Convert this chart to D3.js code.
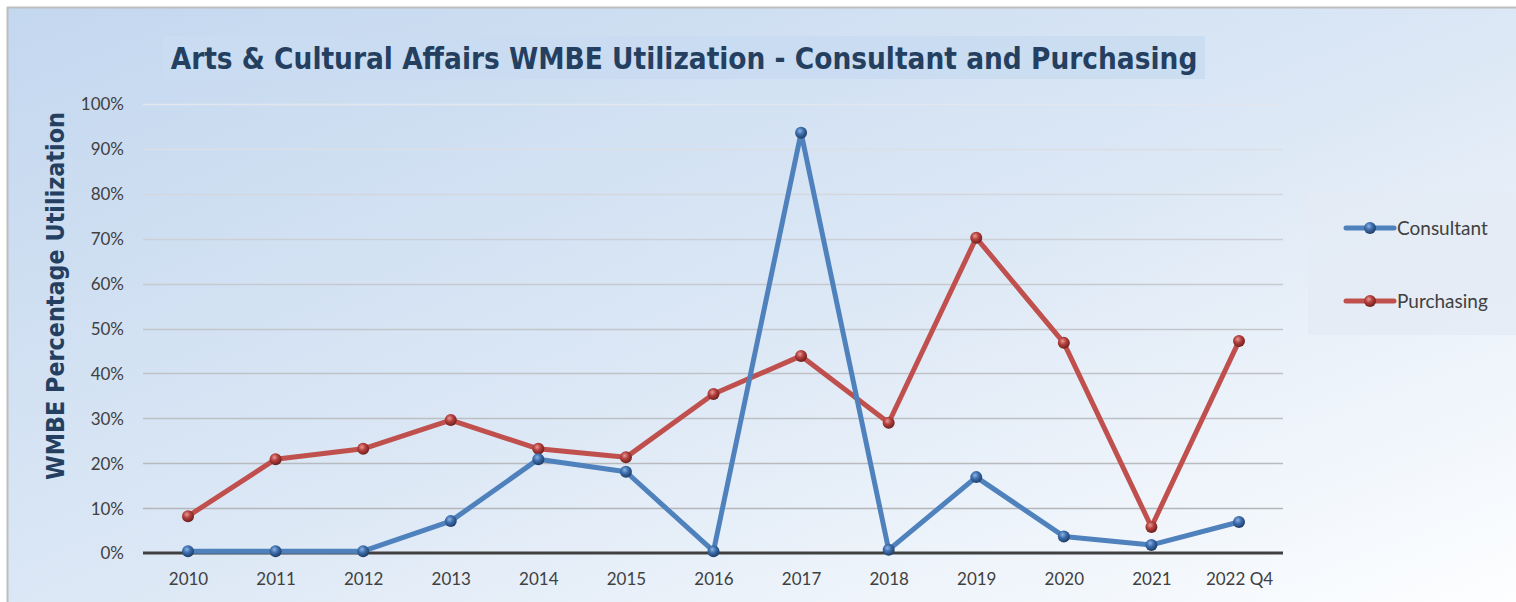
<!DOCTYPE html>
<html><head><meta charset="utf-8">
<script src="https://cdn.jsdelivr.net/npm/d3@7"></script>
<style>html,body{margin:0;padding:0;background:#fff;}svg{display:block;}</style>
</head><body>
<script>
const categories = ["2010","2011","2012","2013","2014","2015","2016","2017","2018","2019","2020","2021","2022 Q4"];
const consultant = [0.4,0.4,0.4,7.1,20.9,18.1,0.4,93.6,0.7,16.9,3.7,1.8,6.9];
const purchasing = [8.2,20.9,23.2,29.6,23.2,21.3,35.4,43.9,29.0,70.2,46.8,5.8,47.2];
const yTicks = [0,10,20,30,40,50,60,70,80,90,100];
const seriesNames = ["Consultant","Purchasing"];
const title = "Arts & Cultural Affairs WMBE Utilization - Consultant and Purchasing";
const yTitle = "WMBE Percentage Utilization";

const W = 1516, H = 602;
const svg = d3.select("body").append("svg").attr("width", W).attr("height", H);
const defs = svg.append("defs");

const bg = defs.append("linearGradient").attr("id","bg").attr("x1","0").attr("y1","0").attr("x2","1").attr("y2","1");
bg.append("stop").attr("offset","0").attr("stop-color","#c3d7ef");
bg.append("stop").attr("offset","0.5").attr("stop-color","#dbe7f5");
bg.append("stop").attr("offset","1").attr("stop-color","#fdfeff");

const gg = defs.append("linearGradient").attr("id","grid").attr("gradientUnits","userSpaceOnUse")
  .attr("x1",0).attr("y1",100).attr("x2",0).attr("y2",560);
gg.append("stop").attr("offset","0").attr("stop-color","#e4e8ee");
gg.append("stop").attr("offset","0.35").attr("stop-color","#c8ccd2");
gg.append("stop").attr("offset","1").attr("stop-color","#b0b2b5");

function sphere(id, light, mid, dark){
  const r = defs.append("radialGradient").attr("id",id).attr("cx","0.4").attr("cy","0.35").attr("r","0.65");
  r.append("stop").attr("offset","0").attr("stop-color",light);
  r.append("stop").attr("offset","0.45").attr("stop-color",mid);
  r.append("stop").attr("offset","1").attr("stop-color",dark);
}
sphere("sphB","#8fb4e3","#3d6fae","#1f3d66");
sphere("sphR","#e89a98","#b5403d","#6e1f1d");

// background
svg.append("rect").attr("x",7).attr("y",7).attr("width",W-7).attr("height",H-7).attr("fill","url(#bg)");
svg.append("line").attr("x1",7).attr("y1",7.5).attr("x2",W).attr("y2",7.5).attr("stroke","#bdbdbd").attr("stroke-width",2);
svg.append("line").attr("x1",7.5).attr("y1",7).attr("x2",7.5).attr("y2",H).attr("stroke","#bdbdbd").attr("stroke-width",2);

// title box
svg.append("rect").attr("x",163).attr("y",36).attr("width",1042).attr("height",43).attr("fill","#c9dbf1").attr("opacity",0.9);
const tt = svg.append("text").attr("x",684).attr("y",69).attr("text-anchor","middle")
  .attr("font-family","'DejaVu Sans Condensed', 'DejaVu Sans', Verdana, sans-serif").attr("font-stretch","condensed").attr("font-weight","bold")
  .attr("font-size",28).attr("fill","#243f60").text(title);
let tw = tt.node().getComputedTextLength();
tt.attr("font-size", 28*1027/tw);

// legend box
svg.append("rect").attr("x",1308).attr("y",193).attr("width",208).attr("height",142).attr("fill","#e4ebf5").attr("opacity",0.85);

const x = d3.scalePoint().domain(categories).range([188, 1239]);
const y = d3.scaleLinear().domain([0,100]).range([553, 104]);
const plotL = 143, plotR = 1283;

// gridlines
svg.append("g").selectAll("line").data(yTicks.filter(d=>d>0)).join("line")
  .attr("x1",plotL).attr("x2",plotR).attr("y1",d=>Math.round(y(d))+0.5).attr("y2",d=>Math.round(y(d))+0.5)
  .attr("stroke","url(#grid)").attr("stroke-width",1.6);

// y axis labels
const yAxis = d3.axisLeft(y).tickValues(yTicks).tickFormat(d=>d+"%").tickSize(0).tickPadding(0);
const ya = svg.append("g").attr("transform","translate(124,0)").call(yAxis);
ya.select(".domain").remove();
ya.selectAll("text").attr("font-family","Lato, 'Open Sans', sans-serif").attr("font-size",17).attr("fill","#404040").attr("dy","0.35em");

// x axis
const xAxis = d3.axisBottom(x).tickSize(0).tickPadding(0);
const xa = svg.append("g").attr("transform","translate(0,579)").call(xAxis);
xa.select(".domain").remove();
xa.selectAll("text").attr("font-family","Lato, 'Open Sans', sans-serif").attr("font-size",17).attr("fill","#404040").attr("dy","0.35em");

// zero line
svg.append("line").attr("x1",plotL).attr("x2",plotR).attr("y1",y(0)).attr("y2",y(0)).attr("stroke","#404040").attr("stroke-width",3);

// y title
const yt = svg.append("text").attr("transform","translate(64,296) rotate(-90)").attr("text-anchor","middle")
  .attr("font-family","'DejaVu Sans Condensed', 'DejaVu Sans', Verdana, sans-serif").attr("font-stretch","condensed").attr("font-weight","bold").attr("font-size",24)
  .attr("fill","#243f60").text(yTitle);
let yw = yt.node().getComputedTextLength();
yt.attr("font-size", 24*368/yw);

const series = [
  {name:seriesNames[0], values:consultant, color:"#4f81bd", sph:"url(#sphB)"},
  {name:seriesNames[1], values:purchasing, color:"#c0504d", sph:"url(#sphR)"}
];
const line = d3.line().x((d,i)=>x(categories[i])).y(d=>y(d));

[series[1], series[0]].forEach(s=>{
  svg.append("path").datum(s.values).attr("d",line).attr("fill","none").attr("stroke",s.color)
    .attr("stroke-width",5).attr("stroke-linejoin","round");
});
[series[1], series[0]].forEach(s=>{
  svg.append("g").selectAll("circle").data(s.values).join("circle")
    .attr("cx",(d,i)=>x(categories[i])).attr("cy",d=>y(d)).attr("r",6).attr("fill",s.sph);
});

// legend
const ly = [228, 301];
series.forEach((s,i)=>{
  svg.append("line").attr("x1",1346).attr("x2",1394).attr("y1",ly[i]).attr("y2",ly[i]).attr("stroke",s.color).attr("stroke-width",5).attr("stroke-linecap","round");
  svg.append("circle").attr("cx",1370).attr("cy",ly[i]).attr("r",6).attr("fill",s.sph);
  svg.append("text").attr("x",1397).attr("y",ly[i]).attr("dy","0.35em").attr("font-family","Lato, 'Open Sans', sans-serif")
    .attr("font-size",19).attr("fill","#404040").text(s.name);
});
</script>
</body></html>
